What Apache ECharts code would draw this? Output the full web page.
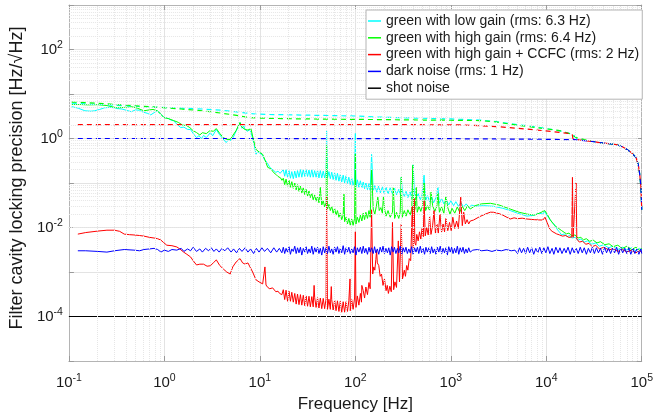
<!DOCTYPE html>
<html><head><meta charset="utf-8">
<script src="https://cdn.jsdelivr.net/npm/echarts@6/dist/echarts.min.js"></script>
<style>html,body{margin:0;padding:0;background:#fff}#c{width:656px;height:418px}</style>
</head><body><div id="c"></div><script>
// ---- data (frequency Hz, value Hz/sqrt(Hz)) ----
const legendNames = ['green with low gain (rms: 6.3 Hz)','green with high gain (rms: 6.4 Hz)','green with high gain + CCFC (rms: 2 Hz)','dark noise (rms: 1 Hz)','shot noise'];
const xTickRange = [0.1, 1e5];
const yTickRange = [1e-5, 1e3];

const cyanLowGain = [
[0.107,5.2],[0.125,4.8],[0.147,4.2],[0.17,4.1],[0.186,4.2],[0.21,4.5],[0.236,4.9],[0.27,5.0],[0.3,4.9],[0.32,4.7],[0.36,4.6],[0.4,4.3],[0.45,4.0],[0.5,4.4],[0.55,4.3],[0.6,3.9],[0.66,3.7],[0.72,3.4],[0.78,3.8],[0.84,4.2],[0.9,3.7],[0.99,2.95],[1.08,2.9],[1.17,2.6],[1.25,2.5],[1.35,2.1],[1.48,1.76],[1.6,1.8],[1.75,1.6],[1.88,1.59],[2.0,1.3],[2.17,1.05],[2.3,1.15],[2.45,1.0],[2.57,1.17],[2.75,1.05],[2.9,1.2],[3.03,1.36],[3.2,1.15],[3.5,1.59],[3.75,1.25],[4.0,1.05],[4.14,0.95],[4.44,0.81],[4.7,0.95],[5.0,0.9],[5.25,1.05],[5.5,1.3],[5.9,1.8],[6.2,2.28],[6.5,1.7],[6.8,1.9],[7.0,1.6],[7.4,1.45],[7.87,1.59],[8.3,1.1],[8.7,0.75],[9.1,0.44],[9.5,0.5],[10.0,0.47],[10.7,0.42],[11.2,0.33],[11.8,0.3],[12.7,0.224],[13.2,0.24],[14.0,0.19],[14.7,0.173],[15.5,0.185],[16.3,0.165],[17.0,0.173],
[17.6,0.2],[18.2,0.142],[18.8,0.2],[19.5,0.135],[20.2,0.19],[20.9,0.128],[21.6,0.18],[22.4,0.125],[23.2,0.185],[24,0.13],[24.8,0.19],[25.7,0.135],[26.6,0.2],[27.5,0.135],[28.5,0.2],[29.5,0.14],[30.5,0.2],[31.6,0.14],[32.7,0.195],[33.8,0.135],[35,0.2],[36.2,0.135],[37.5,0.19],[38.8,0.135],[40.2,0.195],[41.6,0.13],[43,0.19],[44.5,0.13],[46.1,0.185],[47.7,0.13],[49.4,0.18],[50,1.5],[51.1,0.13],[52.9,0.18],[54.7,0.125],[56.6,0.175],[58.6,0.12],[60.7,0.17],[62.8,0.115],[65,0.165],[67.3,0.11],[69.6,0.155],[72,0.105],[74.6,0.15],[77.2,0.1],[79.9,0.145],[82.7,0.098],[85.5,0.135],[88.5,0.092],[91.6,0.13],[94.8,0.088],[98.2,0.12],[100,1.3],[101.6,0.083],[105,0.118],[109,0.08],[113,0.112],[117,0.077],[121,0.105],[125,0.074],[129,0.1],[134,0.071],[139,0.097],[143,0.068],[148,0.44],[154,0.066],[160,0.088],[168,0.062],[175,0.085],[183,0.06],[192,0.082],[200,0.058],[210,0.08],[220,0.057],[232,0.078],[245,0.056],[258,0.076],[270,0.054],[285,0.072],[300,0.05],[303,0.134],[310,0.068],[326,0.05],[340,0.065],[355,0.047],[375,0.063],[390,0.045],[404,0.26],[415,0.06],[435,0.044],[455,0.058],[480,0.042],[500,0.055],[525,0.15],[545,0.04],[570,0.052],[600,0.038],[630,0.05],[660,0.036],[700,0.047],[733,0.08],[760,0.035],[800,0.045],[846,0.034],[900,0.042],[950,0.032],[1000,0.04],[1070,0.031],[1130,0.038],[1200,0.03],[1280,0.036],[1360,0.029],[1450,0.034],[1550,0.028],[1650,0.032],
[1800,0.03],[2200,0.031],[2800,0.03],[3500,0.027],[4200,0.024],[5000,0.021],[6280,0.018],[7500,0.019],[8500,0.021],[9200,0.02],[9600,0.023],[10500,0.017],[11200,0.014],[12000,0.012],[12800,0.0095],[13800,0.0078],[14500,0.0068],[15500,0.0072],[16500,0.0062],[17500,0.0066],[18500,0.0058],[20000,0.006],[21500,0.0052],[23000,0.0055],[25000,0.0047],[27000,0.005],[30000,0.0042],[33000,0.0045],[36000,0.0038],[40000,0.0041],[45000,0.0035],[50000,0.0038],[56000,0.0032],[63000,0.0036],[70000,0.0031],[78000,0.0035],[87000,0.003],[95000,0.0034],[100000,0.0031]
];

const greenHighGain = [
[0.107,5.8],[0.13,5.8],[0.16,5.7],[0.2,5.76],[0.25,5.5],[0.29,5.1],[0.32,4.9],[0.38,5.0],[0.45,5.2],[0.52,4.8],[0.61,4.2],[0.7,4.4],[0.76,4.5],[0.84,4.2],[0.92,3.5],[0.99,2.95],[1.1,2.8],[1.25,2.53],[1.4,2.3],[1.55,2.0],[1.71,1.95],[1.85,1.75],[2.0,1.5],[2.17,1.36],[2.35,1.2],[2.5,1.35],[2.75,1.29],[3.0,1.5],[3.25,1.45],[3.5,1.67],[3.8,1.3],[4.14,1.05],[4.5,0.95],[4.89,0.95],[5.25,1.2],[5.64,1.51],[6.0,2.0],[6.2,2.28],[6.5,1.8],[7.0,1.59],[7.5,1.55],[8.07,1.67],[8.5,1.0],[9.1,0.57],[9.8,0.5],[10.7,0.44],[11.3,0.33],[12.1,0.224],[13,0.21],[14,0.17],[14.7,0.157],[15.5,0.14],[16.5,0.13],[17.0,0.115],
[17.6,0.128],[18.2,0.092],[18.8,0.122],[19.5,0.085],[20.2,0.115],[20.9,0.08],[21.6,0.107],[22.4,0.076],[23.2,0.1],[24,0.07],[24.8,0.092],[25.7,0.065],[26.6,0.085],[27.5,0.06],[28.5,0.078],[29.5,0.055],[30.5,0.072],[31.6,0.051],[32.7,0.066],[33.8,0.047],[35,0.059],[36.2,0.042],[37.5,0.054],[38.8,0.039],[40.2,0.05],[41.6,0.036],[43,0.08],[44.5,0.032],[46.1,0.04],[47.7,0.029],[49.4,0.036],[50,0.7],[51.1,0.026],[52.9,0.033],[54.7,0.024],[56.6,0.03],[58.6,0.021],[60.7,0.027],[62.8,0.019],[65,0.024],[67.3,0.017],[69.6,0.021],[72,0.015],[74.6,0.019],[76,0.056],[77.2,0.0135],[79.9,0.017],[82.7,0.012],[85.5,0.016],[88.5,0.0113],[91.6,0.0155],[94.8,0.0112],[98.2,0.016],[100,0.45],[101.6,0.012],[105,0.017],[109,0.013],[113,0.019],[117,0.014],[121,0.021],[125,0.015],[129,0.022],[134,0.016],[139,0.024],[143,0.017],[148,0.2],[154,0.026],[160,0.02],[166,0.03],[172,0.048],[178,0.024],[185,0.028],[192,0.021],[197,0.05],[203,0.025],[210,0.018],[220,0.024],[232,0.017],[245,0.022],[250,0.08],[258,0.016],[270,0.022],[285,0.016],[295,0.022],[303,0.134],[310,0.017],[326,0.024],[340,0.018],[355,0.025],[375,0.019],[390,0.026],[400,0.25],[410,0.021],[425,0.028],[434,0.08],[445,0.022],[465,0.03],[485,0.023],[505,0.031],[525,0.1],[545,0.024],[570,0.031],[600,0.024],[621,0.062],[645,0.031],[680,0.023],[715,0.03],[733,0.06],[760,0.022],[800,0.029],[846,0.021],[887,0.05],[930,0.028],[980,0.02],[1030,0.027],[1100,0.021],[1170,0.029],[1240,0.022],[1320,0.03],[1400,0.024],[1500,0.031],[1600,0.026],
[1800,0.031],[2100,0.034],[2600,0.035],[3200,0.032],[4190,0.026],[5200,0.022],[6280,0.02],[7500,0.019],[8500,0.021],[9640,0.024],[10200,0.02],[11000,0.015],[11700,0.0125],[12600,0.0105],[13500,0.0095],[14500,0.0085],[15400,0.0078],[16300,0.0072],[17300,0.0075],[18400,0.0065],[20000,0.0068],[21500,0.0058],[23000,0.006],[24500,0.0053],[26300,0.0056],[28500,0.0049],[31000,0.0052],[34000,0.0045],[37000,0.0048],[41000,0.0041],[45500,0.0043],[50000,0.0037],[56000,0.004],[63000,0.0034],[70000,0.0038],[78000,0.0032],[87000,0.0036],[95000,0.0031],[100000,0.0034]
];

const redCCFC = [
[0.124,0.0071],[0.15,0.0077],[0.2,0.0083],[0.25,0.0087],[0.3,0.0087],[0.34,0.0082],[0.38,0.0071],[0.43,0.0069],[0.48,0.0068],[0.55,0.0066],[0.61,0.0064],[0.7,0.006],[0.78,0.0058],[0.85,0.0056],[0.92,0.0052],[0.98,0.0046],[1.06,0.004],[1.2,0.0039],[1.35,0.00365],[1.45,0.0033],[1.59,0.0028],[1.72,0.0025],[1.88,0.00218],[2.0,0.0018],[2.17,0.00144],[2.35,0.0015],[2.57,0.0015],[2.8,0.00135],[3.03,0.00138],[3.25,0.0016],[3.5,0.00187],[3.8,0.0014],[4.14,0.00117],[4.5,0.001],[4.89,0.0009],[5.2,0.0013],[5.64,0.00168],[6.2,0.002],[6.6,0.0016],[7.0,0.0015],[7.5,0.0016],[7.87,0.0015],[8.4,0.001],[9.1,0.00067],[9.8,0.0006],[10.7,0.00054],[11.1,0.00052],[11.3,0.0013],[11.6,0.00051],[12.1,0.00045],[12.7,0.00042],[13.6,0.00044],[14.7,0.00036],[15.5,0.00037],[16.1,0.00033],[17.0,0.00031],
[17.6,0.0004],[18.2,0.00024],[18.8,0.00039],[19.5,0.00022],[20.2,0.00037],[20.9,0.00022],[21.6,0.00035],[22.4,0.00021],[23.2,0.00033],[24,0.00019],[24.8,0.00032],[25.7,0.000185],[26.6,0.00031],[27.5,0.00018],[28.5,0.0003],[29.5,0.000175],[30.5,0.00029],[31.6,0.00017],[32.7,0.000285],[33.8,0.000165],[35,0.00028],[36.2,0.000165],[37,0.0005],[37.5,0.00027],[38.8,0.00016],[40.2,0.000265],[41.6,0.000155],[43,0.00026],[44.5,0.00015],[46.1,0.000255],[47.7,0.00015],[49.4,0.00025],[50,0.05],[51.1,0.000145],[52.9,0.000245],[54.7,0.000145],[56,0.00047],[56.6,0.00024],[58.6,0.00014],[60.7,0.000235],[62.8,0.000135],[65,0.000225],[67.3,0.00013],[69.6,0.00022],[72,0.000125],[74.6,0.000215],[77.2,0.000125],[79.9,0.000215],[82.7,0.00013],[85.5,0.000225],[88,0.0007],[88.5,0.000135],[91.6,0.00024],[94.8,0.000145],[98.2,0.00026],[100,0.008],[101.6,0.00016],[105,0.00029],[109,0.00018],[113,0.00033],[116,0.00021],[117,0.0005],[121,0.00038],[125,0.00026],[129,0.00046],[134,0.00031],[139,0.00058],[143,0.00042],[148,0.025],[152,0.0009],[156,0.0013],[160,0.0011],[164,0.0019],[167,0.003],[170,0.0016],[176,0.0014],[182,0.0008],[188,0.0009],[195,0.0005],[202,0.0007],[210,0.00038],[216,0.0005],[222,0.00033],[230,0.00048],[238,0.00036],[245,0.013],[252,0.0004],[260,0.0006],[270,0.00045],[282,0.005],[290,0.0006],[303,0.012],[312,0.0007],[326,0.0011],[335,0.0008],[345,0.0014],[355,0.0011],[367,0.002],[380,0.0018],[395,0.03],[404,0.0035],[414,0.045],[420,0.0045],[430,0.004],[440,0.007],[455,0.005],[470,0.008],[485,0.0055],[500,0.0095],[515,0.0062],[525,0.04],[540,0.0065],[560,0.01],[580,0.0068],[600,0.018],[620,0.007],[645,0.011],[667,0.024],[690,0.0075],[715,0.012],[740,0.0075],[770,0.02],[800,0.0078],[830,0.012],[860,0.008],[890,0.016],[930,0.0085],[970,0.013],[1010,0.0085],[1050,0.017],[1100,0.0095],[1150,0.014],[1200,0.0095],[1270,0.048],[1320,0.011],[1365,0.022],[1420,0.012],[1480,0.015],[1540,0.012],[1600,0.014],
[1730,0.0147],[2000,0.0175],[2300,0.02],[2600,0.0221],[2800,0.022],[3200,0.0205],[3500,0.019],[4190,0.0155],[4600,0.0165],[5000,0.0158],[5600,0.0162],[6280,0.0155],[7000,0.0152],[7500,0.015],[8300,0.0148],[9200,0.0147],[9700,0.017],[10200,0.013],[10900,0.0092],[11500,0.0082],[12000,0.0075],[12800,0.0072],[13800,0.0068],[14800,0.0064],[16000,0.0066],[17200,0.006],[18500,0.0061],[18800,0.134],[19100,0.006],[20000,0.0058],[20500,0.1],[20900,0.0055],[22200,0.0047],[24000,0.0049],[26000,0.0042],[28000,0.0044],[30300,0.0037],[33000,0.004],[36000,0.0033],[40000,0.0036],[45500,0.0031],[50000,0.0034],[56000,0.0029],[63000,0.0032],[70000,0.0028],[78000,0.0031],[87000,0.0027],[95000,0.003],[100000,0.0028]
];

const blueDark = [
[0.124,0.003],[0.15,0.003],[0.2,0.0029],[0.25,0.0028],[0.3,0.003],[0.38,0.0032],[0.48,0.0031],[0.55,0.003],[0.61,0.0032],[0.7,0.0033],[0.78,0.0034],[0.85,0.0032],[0.92,0.0028],[1.0,0.0031],[1.1,0.0029],[1.2,0.0032],[1.35,0.0031],[1.5,0.0034],[1.6,0.0029],[1.75,0.0033],[1.88,0.003],[2.0,0.0036],[2.17,0.0029],[2.35,0.0033],[2.5,0.0028],[2.7,0.0034],[2.9,0.003],[3.1,0.0035],[3.3,0.0029],[3.5,0.0033],[3.75,0.0028],[4.0,0.0034],[4.3,0.003],[4.6,0.0035],[5.0,0.0028],[5.3,0.0033],[5.7,0.0027],[6.1,0.0034],[6.5,0.0029],[7.0,0.0035],[7.5,0.0028],[8.0,0.0033],[8.6,0.0026],[9.2,0.0034],[9.8,0.0028],[10.5,0.0035],[11.2,0.0029],[12,0.0034],[13,0.0027],[14,0.0035],[15,0.0028],[16,0.0034],[17,0.0027],
[17.6,0.0036],[18.2,0.0026],[18.8,0.0034],[19.5,0.0028],[20.2,0.0037],[20.9,0.0025],[21.6,0.0033],[22.4,0.0029],[23.2,0.0038],[24,0.0026],[24.8,0.0035],[25.7,0.0027],[26.6,0.0036],[27.5,0.0024],[28.5,0.0034],[29.5,0.0028],[30.5,0.0037],[31.6,0.0026],[32.7,0.0033],[33.8,0.0027],[35,0.0038],[36.2,0.0025],[37.5,0.0035],[38.8,0.0028],[40.2,0.0036],[41.6,0.0026],[43,0.0034],[44.5,0.0024],[46.1,0.0037],[47.7,0.0027],[49.4,0.0035],[51.1,0.0026],[52.9,0.0038],[54.7,0.0027],[56.6,0.0033],[58.6,0.0025],[60.7,0.0036],[62.8,0.0028],[65,0.0037],[67.3,0.0026],[69.6,0.0034],[72,0.0027],[74.6,0.0039],[77.2,0.0025],[79.9,0.0035],[82.7,0.0028],[85.5,0.0036],[88.5,0.0026],[91.6,0.0033],[94.8,0.0027],[98.2,0.0037],[101.6,0.0024],[105,0.0035],[109,0.0028],[113,0.0036],[117,0.0026],[121,0.0038],[125,0.0027],[129,0.0034],[134,0.0025],[139,0.0036],[143,0.0028],[148,0.0035],[154,0.0026],[159,0.0037],[164,0.0027],[170,0.0033],[176,0.0025],[182,0.0036],[189,0.0028],[195,0.0038],[202,0.0026],[209,0.0034],[217,0.0027],[224,0.0035],[232,0.0024],[240,0.0037],[249,0.0028],[257,0.0036],[266,0.0026],[276,0.0034],[285,0.0027],[295,0.0038],[306,0.0025],[317,0.0035],[328,0.0028],[339,0.0036],[351,0.0026],[363,0.0033],[376,0.0027],[389,0.0037],[403,0.0025],[417,0.0035],[432,0.0028],[447,0.0036],[462,0.0026],[479,0.0038],[495,0.0027],[513,0.0034],[531,0.0025],[549,0.0036],[568,0.0028],[588,0.0035],[609,0.0026],[630,0.0037],[652,0.0027],[675,0.0033],[699,0.0025],[723,0.0036],[749,0.0028],[775,0.0038],[802,0.0026],[830,0.0034],[859,0.0027],[889,0.0035],[920,0.0024],[952,0.0037],[986,0.0028],[1020,0.0036],[1056,0.0026],[1093,0.0034],[1131,0.0027],[1171,0.0038],[1212,0.0025],[1254,0.0035],[1298,0.0028],[1343,0.0036],[1390,0.0026],[1439,0.0033],[1489,0.0027],[1541,0.0035],[1595,0.0028],
[1700,0.0031],[1900,0.0032],[2100,0.003],[2400,0.0031],[2700,0.0029],[3000,0.0031],[3400,0.003],[3800,0.0032],[4300,0.003],[4700,0.0031],
[5000,0.0026],[5250,0.0035],[5510,0.0027],[5790,0.0034],[6080,0.0026],[6380,0.0036],[6700,0.0027],[7040,0.0035],[7390,0.0025],[7760,0.0034],[8150,0.0027],[8550,0.0036],[8980,0.0026],[9430,0.0035],[9900,0.0027],[10400,0.0037],[10900,0.0026],[11500,0.0034],[12000,0.0025],[12600,0.0036],[13300,0.0027],[13900,0.0035],[14600,0.0026],[15400,0.0034],[16100,0.0027],[16900,0.0036],[17800,0.0025],[18700,0.0035],[19600,0.0027],[20600,0.0034],[21600,0.0026],[22700,0.0036],[23800,0.0027],[25000,0.0035],[26300,0.0025],[27600,0.0034],[29000,0.0027],[30400,0.0036],[31900,0.0026],[33500,0.0035],[35200,0.0027],[37000,0.0034],[38800,0.0025],[40800,0.0036],[42800,0.0027],[44900,0.0035],[47200,0.0026],[49500,0.0034],[52000,0.0027],[54600,0.0036],[57300,0.0025],[60200,0.0035],[63200,0.0027],[66400,0.0034],[69700,0.0026],[73200,0.0035],[76800,0.0025],[80700,0.0034],[84700,0.0026],[88900,0.0033],[93400,0.0025],[98000,0.0033],[100000,0.0026]
];

const shotNoise = [[0.1,1e-4],[100000,1e-4]];

// cumulative rms (dashed)
const cyanRms = [[0.107,6.2],[0.15,6.0],[0.25,5.7],[0.4,5.4],[0.6,5.2],[0.9,5.0],[1.5,4.8],[2.5,4.6],[4,4.3],[5.5,4.0],[7,3.75],[9,3.55],[12,3.47],[17,3.44],[30,3.35],[60,3.27],[100,3.2],[200,3.0],[500,2.85],[1000,2.75],[2000,2.6],[3000,2.4],[5000,2.05],[8000,1.8],[12000,1.58],[17000,1.33],[19000,1.25],[20500,1.02],[22000,0.95],[30000,0.86],[36000,0.81],[45000,0.77],[54000,0.73],[62000,0.66],[70000,0.57],[78000,0.48],[87000,0.376],[92000,0.26],[95300,0.157],[98000,0.08],[100000,0.025]];
const greenRms = [[0.107,6.6],[0.15,6.4],[0.25,6.0],[0.4,5.6],[0.6,5.3],[0.9,5.0],[1.5,4.6],[2.5,4.2],[4,3.7],[5.5,3.35],[7,3.05],[8,2.95],[10,2.88],[17,2.8],[50,2.72],[190,2.66],[500,2.6],[1000,2.57],[2000,2.53],[3000,2.35],[5300,1.95],[8000,1.75],[13800,1.51],[17500,1.29],[20700,1.05],[25000,0.95],[28000,0.9],[36000,0.81],[45000,0.77],[54000,0.73],[62000,0.66],[70000,0.57],[78000,0.48],[87000,0.376],[92000,0.26],[95300,0.157],[98000,0.08],[100000,0.025]];
const redRms = [[0.124,2.06],[1,2.06],[10,2.06],[100,2.05],[500,2.04],[1270,2.02],[2000,1.95],[3000,1.85],[5000,1.7],[8000,1.55],[12000,1.42],[17500,1.29],[18700,1.25],[19000,1.0],[20500,0.96],[22000,0.93],[30000,0.86],[36000,0.81],[45000,0.77],[54000,0.73],[62000,0.66],[70000,0.57],[78000,0.48],[87000,0.376],[92000,0.26],[95300,0.157],[98000,0.08],[100000,0.025]];
const blueRms = [[0.124,1.0],[10,1.0],[1000,0.99],[5000,0.97],[10000,0.96],[20000,0.94],[30000,0.86],[36000,0.81],[45000,0.77],[54000,0.73],[62000,0.66],[70000,0.57],[78000,0.48],[87000,0.376],[92000,0.26],[95300,0.157],[98000,0.08],[100000,0.025]];

// ---- chart ----
const FONT = "'Liberation Sans', Arial, Helvetica, sans-serif";
const TXT = '#1a1a1a';
const rich = {
  b:{fontSize:15, fontFamily:FONT, color:TXT},
  s:{fontSize:10.5, fontFamily:FONT, color:TXT, padding:[0,0,8,0]}
};
function xLabel(v){ const e = Math.round(Math.log10(v)); return '{b|10}{s|' + e + '}'; }
function yLabel(v){ const e = Math.round(Math.log10(v)); return (e % 2 === 0) ? '{b|10}{s|' + e + '}' : ''; }

const minorGrid = [];
for (let d = Math.round(Math.log10(xTickRange[0])); d < Math.round(Math.log10(xTickRange[1])); d++)
  for (let k = 2; k <= 9; k++) minorGrid.push({xAxis: k * Math.pow(10, d)});
for (let d = Math.round(Math.log10(yTickRange[0])); d < Math.round(Math.log10(yTickRange[1])); d++)
  for (let k = 2; k <= 9; k++) minorGrid.push({yAxis: k * Math.pow(10, d)});

const boxLine = {show:true, lineStyle:{color:'#b4b4b4', width:1}};
const boxTick = {show:true, inside:true, length:5, lineStyle:{color:'#9a9a9a'}};
const majorGrid = {show:true, lineStyle:{color:'#e3e3e3', width:1}};

function solid(name, data, color){
  return {name, type:'line', data, symbol:'none', showSymbol:false, color,
    lineStyle:{color, width:1}, emphasis:{disabled:true}, z:2};
}
function dashed(name, data, color){
  return {name, type:'line', data, symbol:'none', showSymbol:false, color,
    lineStyle:{color, width:1.2, type:[5,4]}, emphasis:{disabled:true}, z:3};
}

const chart = echarts.init(document.getElementById('c'), null, {renderer:'canvas'});
chart.setOption({
  animation:false,
  backgroundColor:'#fff',
  grid:{left:64, right:13, top:5, bottom:53},
  xAxis:[
    {type:'log', logBase:10, min:xTickRange[0], max:xTickRange[1], splitNumber:6, position:'bottom',
     name:'Frequency [Hz]', nameLocation:'middle', nameGap:35,
     nameTextStyle:{fontSize:17, fontFamily:FONT, color:TXT},
     axisLine:boxLine, axisTick:boxTick, splitLine:majorGrid,
     axisLabel:{formatter:xLabel, rich, margin:12}},
    {type:'log', logBase:10, min:xTickRange[0], max:xTickRange[1], splitNumber:6, position:'top',
     axisLine:boxLine, axisTick:boxTick, splitLine:{show:false}, axisLabel:{show:false}}
  ],
  yAxis:[
    {type:'log', logBase:10, min:yTickRange[0], max:yTickRange[1], splitNumber:8, position:'left',
     name:'Filter cavity locking precision [Hz/\u221AHz]', nameLocation:'middle', nameGap:28,
     nameTextStyle:{fontSize:18, fontFamily:FONT, color:TXT, padding:[0,0,0,10]},
     axisLine:boxLine, axisTick:boxTick, splitLine:majorGrid,
     axisLabel:{formatter:yLabel, rich, margin:6}},
    {type:'log', logBase:10, min:yTickRange[0], max:yTickRange[1], splitNumber:8, position:'right',
     axisLine:boxLine, axisTick:boxTick, splitLine:{show:false}, axisLabel:{show:false}}
  ],
  legend:{
    data:legendNames.map(n => ({name:n, icon:'rect'})), orient:'vertical', left:366, top:10, z:20,
    itemWidth:13, itemHeight:1.5, itemGap:2.8,
    textStyle:{fontSize:14, fontFamily:FONT, color:TXT, lineHeight:14},
    backgroundColor:'#fff', borderColor:'#b4b4b4', borderWidth:1, borderRadius:0,
    padding:[4,3,4,2], selectedMode:false
  },
  series:[
    {name:'minor grid', type:'line', data:[[1,1]], symbol:'none', lineStyle:{opacity:0}, silent:true, z:1,
     markLine:{silent:true, symbol:['none','none'], label:{show:false}, animation:false,
       lineStyle:{color:'#e6e6e6', type:'dotted', width:1}, data:minorGrid}},
    solid(legendNames[0], cyanLowGain, '#00ffff'),
    solid(legendNames[1], greenHighGain, '#00ff00'),
    solid(legendNames[2], redCCFC, '#ff0000'),
    solid(legendNames[3], blueDark, '#0000ff'),
    solid(legendNames[4], shotNoise, '#000000'),
    dashed('cyan rms', cyanRms, '#00ffff'),
    dashed('green rms', greenRms, '#00ff00'),
    dashed('red rms', redRms, '#ff0000'),
    dashed('blue rms', blueRms, '#0000ff')
  ]
});
</script></body></html>
